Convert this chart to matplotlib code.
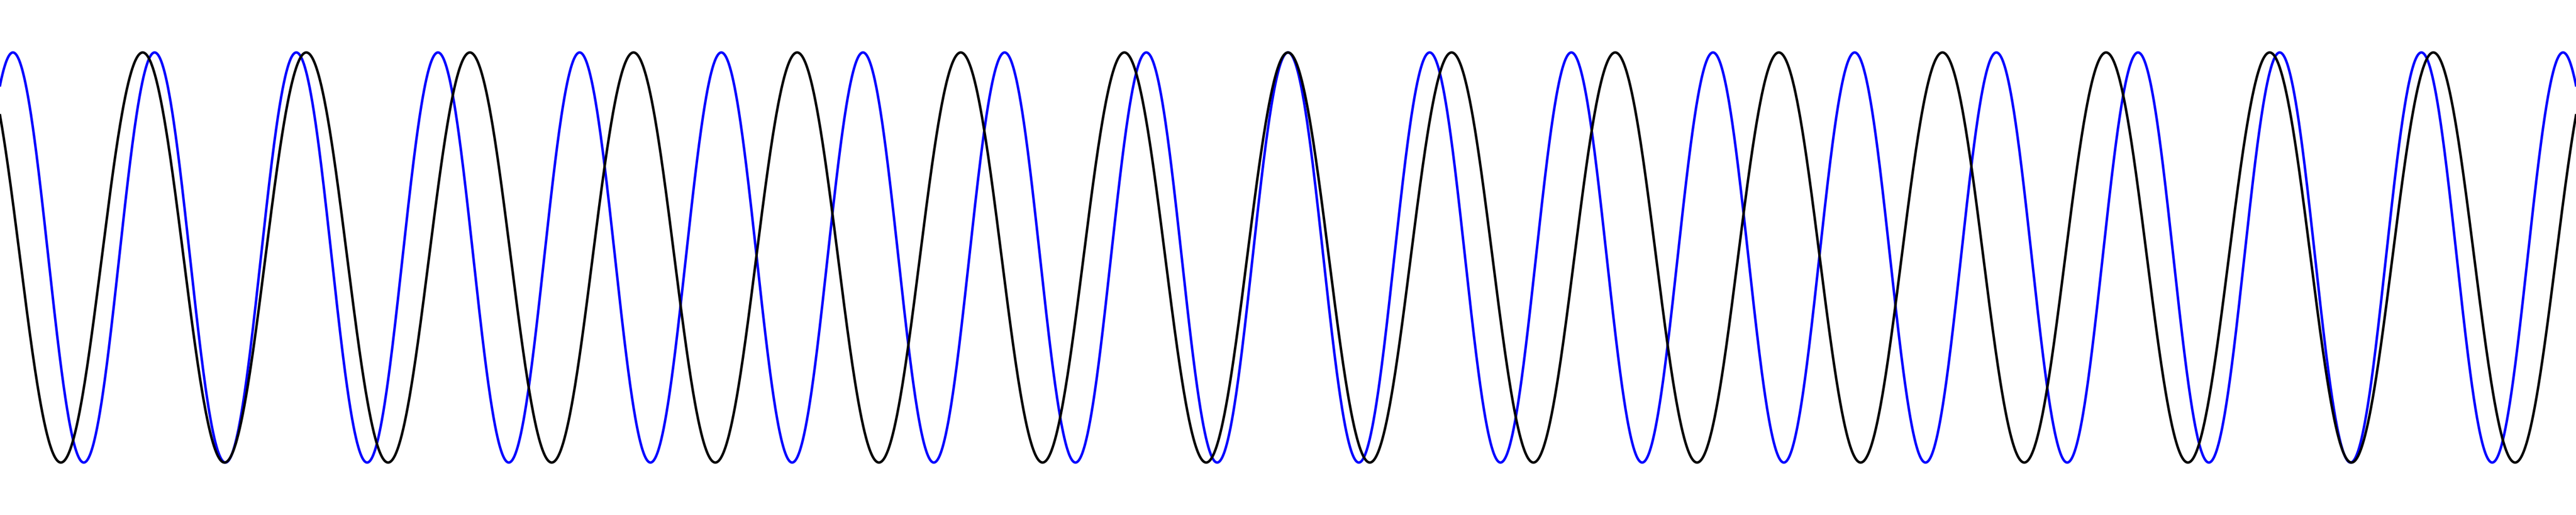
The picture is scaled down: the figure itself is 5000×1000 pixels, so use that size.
import numpy as np
import matplotlib
matplotlib.use('Agg')
import matplotlib.pyplot as plt

# two cosines, both peaking in the middle of the strip
# x is measured in periods of the black wave
x_half_span = 7.872          # left/right edge of the strip
black_freq = 1.0
blue_freq = 1.1549           # blue period is ~275 px vs ~317.6 px for black
y_limits = (-1.256, 1.256)

x = np.linspace(-x_half_span, x_half_span, 20000)
black_y = np.cos(2 * np.pi * black_freq * x)
blue_y = np.cos(2 * np.pi * blue_freq * x)

fig = plt.figure(figsize=(50, 10), dpi=100)
ax = fig.add_axes([0, 0, 1, 1])

ax.plot(x, blue_y, c='#0000ff', lw=3.5)
ax.plot(x, black_y, c='black', lw=3.5)

ax.set_xlim(-x_half_span, x_half_span)
ax.set_ylim(*y_limits)
ax.axis('off')

fig.savefig('out.png', dpi=100, facecolor='white')
